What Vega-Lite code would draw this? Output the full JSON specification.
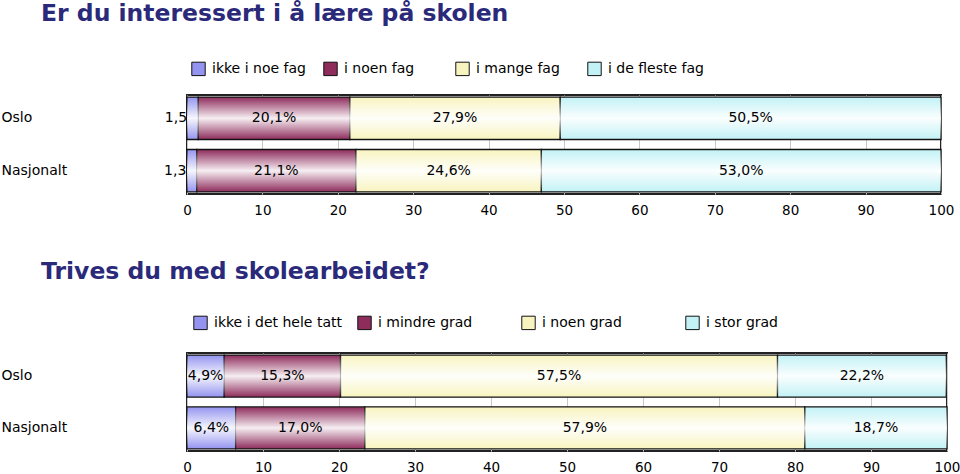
{
  "$schema": "https://vega.github.io/schema/vega-lite/v6.json",
  "background": "white",
  "padding": {"left": 0, "top": 0, "right": 8, "bottom": 0},
  "config": {
    "font": "DejaVu Sans",
    "view": {"stroke": "#222222", "strokeWidth": 2},
    "concat": {"spacing": 40},
    "axis": {"labelColor": "black", "labelFontSize": 13.5, "labelFont": "DejaVu Sans"}
  },
  "resolve": {"scale": {"color": "independent"}, "legend": {"color": "independent"}},
  "vconcat": [
    {
      "title": {"text": "Er du interessert i å lære på skolen", "anchor": "start", "frame": "bounds", "dx": 40, "font": "DejaVu Sans", "fontSize": 23.5, "fontWeight": "bold", "color": "#2b2a7a", "offset": 32},
      "width": 754,
      "height": 99,
      "data": {"values": [
        {"region": "Oslo", "cat": "ikke i noe fag", "k": 1, "pct": 1.5, "label": "1,5%"},
        {"region": "Oslo", "cat": "i noen fag", "k": 2, "pct": 20.1, "label": "20,1%"},
        {"region": "Oslo", "cat": "i mange fag", "k": 3, "pct": 27.9, "label": "27,9%"},
        {"region": "Oslo", "cat": "i de fleste fag", "k": 4, "pct": 50.5, "label": "50,5%"},
        {"region": "Nasjonalt", "cat": "ikke i noe fag", "k": 1, "pct": 1.3, "label": "1,3%"},
        {"region": "Nasjonalt", "cat": "i noen fag", "k": 2, "pct": 21.1, "label": "21,1%"},
        {"region": "Nasjonalt", "cat": "i mange fag", "k": 3, "pct": 24.6, "label": "24,6%"},
        {"region": "Nasjonalt", "cat": "i de fleste fag", "k": 4, "pct": 53.0, "label": "53,0%"}
      ]},
      "encoding": {
        "y": {"field": "region", "type": "nominal", "sort": ["Oslo", "Nasjonalt"], "scale": {"paddingInner": 0.19, "paddingOuter": 0.04},
              "axis": {"title": null, "labelAlign": "left", "labelPadding": 186, "ticks": false, "domain": false, "labelFontSize": 14}},
        "x": {"field": "pct", "type": "quantitative", "stack": "zero", "scale": {"domain": [0, 100], "nice": false},
              "axis": {"title": null, "values": [0, 10, 20, 30, 40, 50, 60, 70, 80, 90, 100], "grid": true, "gridColor": "#c8c8c8", "domain": false, "ticks": false, "labelFlush": false, "labelPadding": 9}},
        "order": {"field": "k", "type": "quantitative"},
        "detail": {"field": "cat"}
      },
      "layer": [
        {
          "mark": {"type": "text", "fontSize": 14, "color": "black", "baseline": "middle", "dx": -10},
          "encoding": {
            "x": {"field": "pct", "type": "quantitative", "stack": "zero", "bandPosition": 0.5},
            "text": {"field": "label"},
            "opacity": {"condition": {"test": "datum.k === 1", "value": 1}, "value": 0}
          }
        },
        {
          "mark": {"type": "bar", "stroke": "#111111", "strokeWidth": 1.3},
          "encoding": {
            "color": {"field": "cat", "type": "nominal",
              "scale": {"domain": ["ikke i noe fag", "i noen fag", "i mange fag", "i de fleste fag"],
                "range": ["#9494f0", "#8e2c5c", "#f8f4c0", "#c2f2f6"]},
              "legend": {"title": null, "orient": "top", "offset": 13, "direction": "horizontal", "columns": 4, "gridAlign": "all", "columnPadding": 13, "symbolType": "square", "symbolSize": 180, "symbolStrokeColor": "#111111", "symbolStrokeWidth": 1, "symbolOpacity": 1, "labelFontSize": 14, "labelColor": "black", "labelOffset": 6, "padding": 4}
            }
          }
        },
        {
          "mark": {"type": "bar", "strokeWidth": 0,
            "color": {"gradient": "linear", "x1": 0, "y1": 0, "x2": 0, "y2": 1, "stops": [{"offset": 0, "color": "rgba(255,255,255,0)"}, {"offset": 0.5, "color": "rgba(255,255,255,0.92)"}, {"offset": 1, "color": "rgba(255,255,255,0)"}]}},
          "encoding": {}
        },
        {
          "mark": {"type": "text", "fontSize": 14, "color": "black", "baseline": "middle"},
          "encoding": {
            "x": {"field": "pct", "type": "quantitative", "stack": "zero", "bandPosition": 0.5},
            "text": {"field": "label"},
            "opacity": {"condition": {"test": "datum.k === 1", "value": 0}, "value": 1}
          }
        }
      ]
    },
    {
      "title": {"text": "Trives du med skolearbeidet?", "anchor": "start", "frame": "bounds", "dx": 40, "font": "DejaVu Sans", "fontSize": 23.5, "fontWeight": "bold", "color": "#2b2a7a", "offset": 26},
      "width": 760,
      "height": 98,
      "data": {"values": [
        {"region": "Oslo", "cat": "ikke i det hele tatt", "k": 1, "pct": 4.9, "label": "4,9%"},
        {"region": "Oslo", "cat": "i mindre grad", "k": 2, "pct": 15.3, "label": "15,3%"},
        {"region": "Oslo", "cat": "i noen grad", "k": 3, "pct": 57.5, "label": "57,5%"},
        {"region": "Oslo", "cat": "i stor grad", "k": 4, "pct": 22.2, "label": "22,2%"},
        {"region": "Nasjonalt", "cat": "ikke i det hele tatt", "k": 1, "pct": 6.4, "label": "6,4%"},
        {"region": "Nasjonalt", "cat": "i mindre grad", "k": 2, "pct": 17.0, "label": "17,0%"},
        {"region": "Nasjonalt", "cat": "i noen grad", "k": 3, "pct": 57.9, "label": "57,9%"},
        {"region": "Nasjonalt", "cat": "i stor grad", "k": 4, "pct": 18.7, "label": "18,7%"}
      ]},
      "encoding": {
        "y": {"field": "region", "type": "nominal", "sort": ["Oslo", "Nasjonalt"], "scale": {"paddingInner": 0.19, "paddingOuter": 0.04},
              "axis": {"title": null, "labelAlign": "left", "labelPadding": 186, "ticks": false, "domain": false, "labelFontSize": 14}},
        "x": {"field": "pct", "type": "quantitative", "stack": "zero", "scale": {"domain": [0, 100], "nice": false},
              "axis": {"title": null, "values": [0, 10, 20, 30, 40, 50, 60, 70, 80, 90, 100], "grid": true, "gridColor": "#c8c8c8", "domain": false, "ticks": false, "labelFlush": false, "labelPadding": 9}},
        "order": {"field": "k", "type": "quantitative"},
        "detail": {"field": "cat"}
      },
      "layer": [
        {
          "mark": {"type": "bar", "stroke": "#111111", "strokeWidth": 1.3},
          "encoding": {
            "color": {"field": "cat", "type": "nominal",
              "scale": {"domain": ["ikke i det hele tatt", "i mindre grad", "i noen grad", "i stor grad"],
                "range": ["#9494f0", "#8e2c5c", "#f8f4c0", "#c2f2f6"]},
              "legend": {"title": null, "orient": "top", "offset": 15, "direction": "horizontal", "columns": 4, "gridAlign": "all", "columnPadding": 13, "symbolType": "square", "symbolSize": 180, "symbolStrokeColor": "#111111", "symbolStrokeWidth": 1, "symbolOpacity": 1, "labelFontSize": 14, "labelColor": "black", "labelOffset": 6, "padding": 6}
            }
          }
        },
        {
          "mark": {"type": "bar", "strokeWidth": 0,
            "color": {"gradient": "linear", "x1": 0, "y1": 0, "x2": 0, "y2": 1, "stops": [{"offset": 0, "color": "rgba(255,255,255,0)"}, {"offset": 0.5, "color": "rgba(255,255,255,0.92)"}, {"offset": 1, "color": "rgba(255,255,255,0)"}]}},
          "encoding": {}
        },
        {
          "mark": {"type": "text", "fontSize": 14, "color": "black", "baseline": "middle"},
          "encoding": {
            "x": {"field": "pct", "type": "quantitative", "stack": "zero", "bandPosition": 0.5},
            "text": {"field": "label"}
          }
        }
      ]
    }
  ]
}
